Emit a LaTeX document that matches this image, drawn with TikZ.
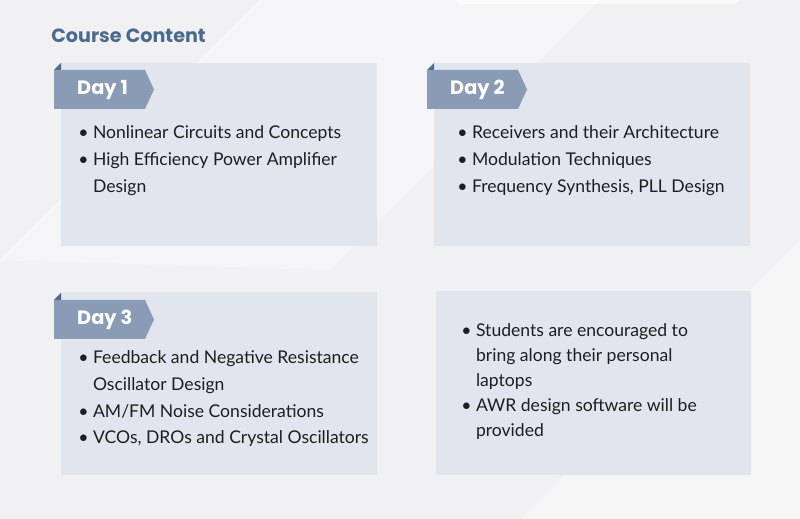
\documentclass[tikz,border=0pt]{standalone}
\usepackage{fontspec}
\setmainfont{Lato}
\newfontfamily\headfont{Poppins}
\definecolor{bg}{HTML}{F1F1F3}
\definecolor{boxc}{HTML}{E1E6EE}
\definecolor{tagc}{HTML}{8A9BB6}
\definecolor{darkc}{HTML}{4B6A8F}
\definecolor{txt}{HTML}{1E1E1E}
\begin{document}
\begin{tikzpicture}[x=0.02cm,y=-0.02cm,
  card/.style={fill=boxc,draw=none},
  tagshape/.style={fill=tagc},
  tagtext/.style={font=\headfont\bfseries\fontsize{11}{13}\selectfont,text=white,anchor=west},
  items/.style={font=\fontsize{10}{15.3}\selectfont,text=txt,anchor=north west,align=left,inner sep=0pt}]
\useasboundingbox (0,0) rectangle (800,519);
\fill[bg] (0,0) rectangle (800,519);
\fill[white,opacity=0.35] (0,260) -- (260,0) -- (600,0) -- (330,270) -- cycle;
\fill[white,opacity=0.3] (520,519) -- (800,240) -- (800,519) -- cycle;
\fill[white,opacity=0.6] (455,0) -- (740,0) -- (735,4) -- (460,4) -- cycle;
% cards
\foreach \nm/\xa/\ya/\xb/\yb in {c1/61/63/377/246,c2/434/63/750/246,c3/61/292/377/475,c4/436/291/751/475}{
  \fill[card] (\xa,\ya) rectangle (\xb,\yb);
  \coordinate (\nm) at (\xa,\ya);
}
\node[font=\headfont\bfseries\fontsize{10.9}{12}\selectfont,text=darkc,anchor=base west,inner sep=0pt] (title) at (51,43) {Course Content};
% tags
\foreach \nm/\x/\y/\lab in {t1/54/70/Day 1,t2/427/70/Day 2,t3/54/300/Day 3}{
  \fill[darkc] (\x,\y) -- (\x+7,\y-7) -- (\x+7,\y) -- cycle;
  \fill[tagshape] (\x,\y) -- (\x+91,\y) -- (\x+100,\y+19.5) -- (\x+91,\y+39) -- (\x,\y+39) -- cycle;
  \node[tagtext] (\nm) at (\x+17,\y+20) {\lab};
}
\node[items] (l1) at (78,125) {\textbullet\ Nonlinear Circuits and Concepts\\\textbullet\ High Efficiency Power Amplifier\\\hphantom{\textbullet\ }Design};
\node[items] (l2) at (457,125) {\textbullet\ Receivers and their Architecture\\\textbullet\ Modulation Techniques\\\textbullet\ Frequency Synthesis, PLL Design};
\node[items] (l3) at (78,350) {\textbullet\ Feedback and Negative Resistance\\\hphantom{\textbullet\ }Oscillator Design\\\textbullet\ AM/FM Noise Considerations\\\textbullet\ VCOs, DROs and Crystal Oscillators};
\node[items,font=\fontsize{10}{14.2}\selectfont] (l4) at (461,323) {\textbullet\ Students are encouraged to\\\hphantom{\textbullet\ }bring along their personal\\\hphantom{\textbullet\ }laptops\\\textbullet\ AWR design software will be\\\hphantom{\textbullet\ }provided};
\end{tikzpicture}
\end{document}
